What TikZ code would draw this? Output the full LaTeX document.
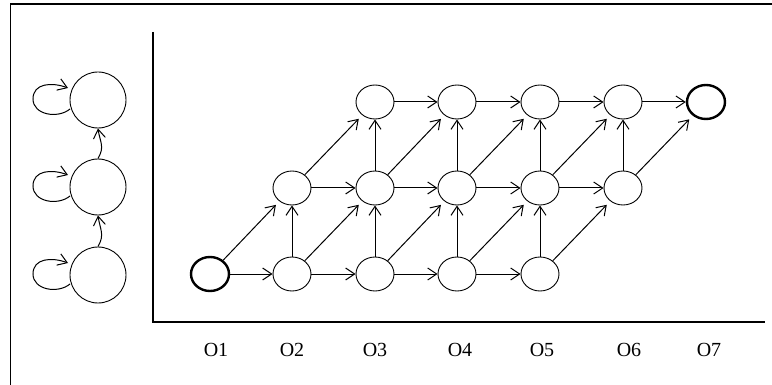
\documentclass[tikz,border=0pt]{standalone}
\usepackage{fontspec}
\setmainfont{Liberation Serif}
\usetikzlibrary{arrows.meta,shapes.geometric,calc}
\tikzset{
  st/.style={draw, ellipse, minimum width=38pt, minimum height=34pt, inner sep=0pt, line width=0.9pt},
  bold/.style={st, line width=2.4pt},
  big/.style={draw, circle, minimum size=56pt, inner sep=0pt, line width=0.9pt},
  arr/.style={-{Straight Barb[length=9pt,width=12pt]}, line width=1pt},
  lab/.style={font=\fontsize{20}{22}\selectfont},
  ln/.style={line width=1.2pt}
}
\begin{document}
\begin{tikzpicture}[x=1pt,y=-1pt]
\useasboundingbox (0,0) rectangle (772,385);
% frame (cropped)
\coordinate (f1) at (10.5,385);
\coordinate (f2) at (10.5,4);
\coordinate (f3) at (772,4);
\draw[ln] (f1) -- (f2) -- (f3);
% axes
\coordinate (ay) at (153,32);
\coordinate (ao) at (153,322);
\coordinate (ax) at (765,322);
\draw[ln] (ay) -- (ao) -- (ax);
% left model
\node[big] (L1) at (98,100) {};
\node[big] (L2) at (98,187) {};
\node[big] (L3) at (98,275) {};
\foreach \n in {L1,L2,L3}{
  \coordinate (\n s) at ($(\n)+(-28,9)$);
  \coordinate (\n l) at ($(\n)+(-65,-1)$);
  \coordinate (\n e) at ($(\n)+(-30,-12)$);
  \draw[arr] (\n s) .. controls +(-12,10) and +(0,16) .. (\n l)
             .. controls +(0,-16) and +(-16,-6) .. (\n e);
}
\draw[arr] (L3.north) .. controls +(7,-12) and +(2,14) .. (L2.south);
\draw[arr] (L2.north) .. controls +(7,-12) and +(2,14) .. (L1.south);
% grid nodes
\node[bold] (b1) at (210,274) {};
\node[st] (b2) at (292,274) {};
\node[st] (b3) at (375,274) {};
\node[st] (b4) at (457,274) {};
\node[st] (b5) at (540,274) {};
\node[st] (m2) at (292,188) {};
\node[st] (m3) at (375,188) {};
\node[st] (m4) at (457,188) {};
\node[st] (m5) at (540,188) {};
\node[st] (m6) at (623,188) {};
\node[st] (t3) at (375,102) {};
\node[st] (t4) at (457,102) {};
\node[st] (t5) at (540,102) {};
\node[st] (t6) at (623,102) {};
\node[bold] (t7) at (706,102) {};
% horizontal
\foreach \a/\b in {b1/b2,b2/b3,b3/b4,b4/b5,m2/m3,m3/m4,m4/m5,m5/m6,t3/t4,t4/t5,t5/t6,t6/t7}{
  \draw[arr] (\a) -- (\b);
}
% vertical
\foreach \a/\b in {b2/m2,b3/m3,b4/m4,b5/m5,m3/t3,m4/t4,m5/t5,m6/t6}{
  \draw[arr] (\a) -- (\b);
}
% diagonal
\foreach \a/\b in {b1/m2,b2/m3,b3/m4,b4/m5,b5/m6,m2/t3,m3/t4,m4/t5,m5/t6,m6/t7}{
  \draw[arr, shorten >=5pt] (\a) -- (\b);
}
% labels
\node[lab] (o1) at (216,350) {O1};
\node[lab] (o2) at (292,350) {O2};
\node[lab] (o3) at (375,350) {O3};
\node[lab] (o4) at (460,350) {O4};
\node[lab] (o5) at (542,350) {O5};
\node[lab] (o6) at (629,350) {O6};
\node[lab] (o7) at (709,350) {O7};
\end{tikzpicture}
\end{document}
